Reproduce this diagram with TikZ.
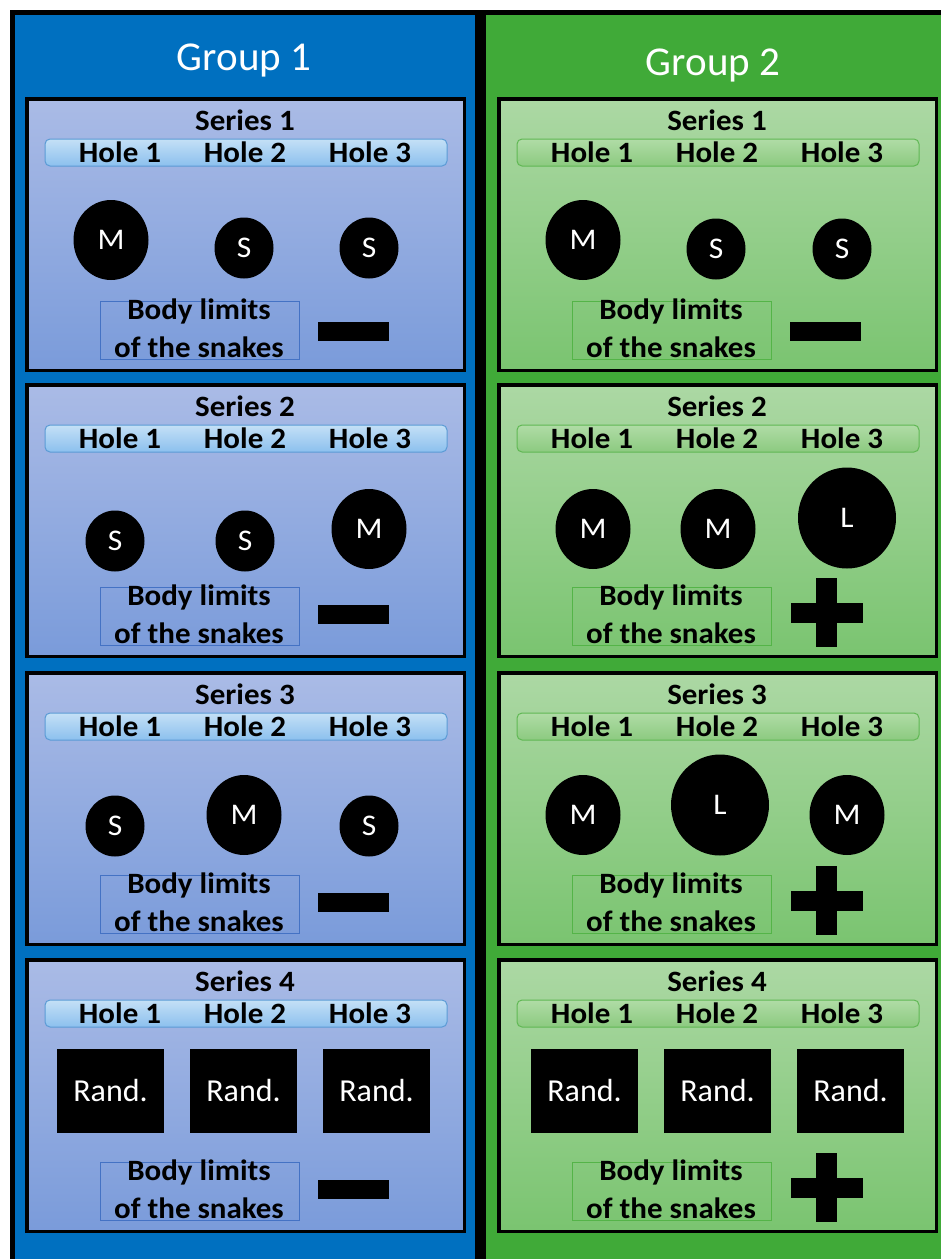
\documentclass[tikz,border=0pt]{standalone}
\usepackage{fontspec}
\setmainfont{Carlito}
\newfontfamily\widefont{Carlito}[FakeStretch=1.05]
\usetikzlibrary{shapes.geometric}
\definecolor{grpblue}{RGB}{0,112,192}
\definecolor{grpgreen}{RGB}{64,170,56}
\definecolor{inbluetop}{RGB}{170,187,230}
\definecolor{inbluebot}{RGB}{122,155,218}
\definecolor{ingreentop}{RGB}{172,216,164}
\definecolor{ingreenbot}{RGB}{122,196,112}
\definecolor{hdbluetop}{RGB}{196,224,246}
\definecolor{hdbluebot}{RGB}{140,192,238}
\definecolor{hdblueline}{RGB}{91,155,213}
\definecolor{hdgreentop}{RGB}{176,220,166}
\definecolor{hdgreenbot}{RGB}{140,202,128}
\definecolor{hdgreenline}{RGB}{96,184,84}
\definecolor{bodyblue}{RGB}{68,114,196}
\definecolor{bodygreen}{RGB}{84,180,72}
\tikzset{
  titletext/.style={text=white, font=\fontsize{41}{49}\selectfont, anchor=base, inner sep=0pt},
  sertext/.style={font=\widefont\bfseries\fontsize{29.5}{35}\selectfont, anchor=base, inner sep=0pt},
  blob/.style={ellipse, fill=black, text=white, inner sep=0pt, font=\widefont\fontsize{30}{36}\selectfont},
  blobM/.style={blob, minimum width=75pt, minimum height=80pt},
  blobS/.style={blob, minimum width=59pt, minimum height=61pt},
  blobL/.style={blob, minimum width=98pt, minimum height=101pt},
  randbox/.style={fill=black, text=white, inner sep=0pt, minimum width=107pt, minimum height=84pt, font=\fontsize{32}{38}\selectfont},
  bluebox/.style={draw=black, line width=3.5pt, top color=inbluetop, bottom color=inbluebot},
  greenbox/.style={draw=black, line width=3.5pt, top color=ingreentop, bottom color=ingreenbot},
  bluehead/.style={draw=hdblueline, line width=1pt, rounded corners=5pt, top color=hdbluetop, bottom color=hdbluebot},
  greenhead/.style={draw=hdgreenline, line width=1pt, rounded corners=5pt, top color=hdgreentop, bottom color=hdgreenbot},
  bluebody/.style={draw=bodyblue, line width=1pt},
  greenbody/.style={draw=bodygreen, line width=1pt},
}
% #1 prefix, #2 x0, #3 y0, #4 box style, #5 head style, #6 body style, #7 number
\newcommand\SerPanel[7]{%
  \draw[#4] (#2+1.75,#3+1.75) rectangle (#2+439.25,#3+273.25);
  \draw[#5] (#2+20,#3+42) rectangle (#2+422,#3+69);
  \node[sertext] (#1-title) at (#2+220,#3+33.5) {Series #7};
  \node[sertext] (#1-h1) at (#2+95,#3+65.5) {Hole 1};
  \node[sertext] (#1-h2) at (#2+220,#3+65.5) {Hole 2};
  \node[sertext] (#1-h3) at (#2+345,#3+65.5) {Hole 3};
  \draw[#6] (#2+75,#3+204) rectangle (#2+274,#3+262);
  \node[sertext] (#1-b1) at (#2+174,#3+222.5) {Body limits};
  \node[sertext] (#1-b2) at (#2+174,#3+260) {of the snakes};
}
\newcommand\MinusBar[2]{\fill[black] (#1+293,#2+222) rectangle (#1+364,#2+241);}
\newcommand\PlusMark[2]{%
  \fill[black] (#1+319,#2+195) rectangle (#1+340,#2+264);
  \fill[black] (#1+294,#2+220) rectangle (#1+366,#2+240);}
\begin{document}
\begin{tikzpicture}[x=1pt,y=-1pt]
\useasboundingbox (0,0) rectangle (941,1259);
\fill[white] (0,0) rectangle (941,1259);
\fill[black] (10,10) rectangle (941,1259);
\fill[grpblue] (15,15) rectangle (475,1259);
\fill[grpgreen] (486,15) rectangle (941,1259);
\node[titletext] (g1) at (244,70) {Group 1};
\node[titletext] (g2) at (713,75) {Group 2};
% Group 1
\SerPanel{a1}{25}{97}{bluebox}{bluehead}{bluebody}{1}
\SerPanel{a2}{25}{383}{bluebox}{bluehead}{bluebody}{2}
\SerPanel{a3}{25}{671}{bluebox}{bluehead}{bluebody}{3}
\SerPanel{a4}{25}{958}{bluebox}{bluehead}{bluebody}{4}
% Group 2
\SerPanel{b1}{497}{97}{greenbox}{greenhead}{greenbody}{1}
\SerPanel{b2}{497}{383}{greenbox}{greenhead}{greenbody}{2}
\SerPanel{b3}{497}{671}{greenbox}{greenhead}{greenbody}{3}
\SerPanel{b4}{497}{958}{greenbox}{greenhead}{greenbody}{4}
% limits marks
\MinusBar{25}{100}
\MinusBar{25}{383}
\MinusBar{25}{671}
\MinusBar{25}{958}
\MinusBar{497}{100}
\PlusMark{497}{383}
\PlusMark{497}{671}
\PlusMark{497}{958}
% Group 1 holes
\node[blobM] (a1c1) at (111,240) {M};
\node[blobS] (a1c2) at (244,248) {S};
\node[blobS] (a1c3) at (369,248) {S};
\node[blobS] (a2c1) at (115,541) {S};
\node[blobS] (a2c2) at (245,541) {S};
\node[blobM] (a2c3) at (369,529) {M};
\node[blobS] (a3c1) at (115,826) {S};
\node[blobM] (a3c2) at (244,815) {M};
\node[blobS] (a3c3) at (369,826) {S};
\node[randbox] (a4c1) at (110.5,1091) {Rand.};
\node[randbox] (a4c2) at (243.5,1091) {Rand.};
\node[randbox] (a4c3) at (376.5,1091) {Rand.};
% Group 2 holes
\node[blobM] (b1c1) at (583,240) {M};
\node[blobS] (b1c2) at (716,249) {S};
\node[blobS] (b1c3) at (842,249) {S};
\node[blobM] (b2c1) at (593,529) {M};
\node[blobM] (b2c2) at (718,529) {M};
\node[blobL] (b2c3) at (847,518) {L};
\node[blobM] (b3c1) at (583,815) {M};
\node[blobL] (b3c2) at (720,805) {L};
\node[blobM] (b3c3) at (847,815) {M};
\node[randbox] (b4c1) at (584.5,1091) {Rand.};
\node[randbox] (b4c2) at (717.5,1091) {Rand.};
\node[randbox] (b4c3) at (850.5,1091) {Rand.};
\end{tikzpicture}
\end{document}
